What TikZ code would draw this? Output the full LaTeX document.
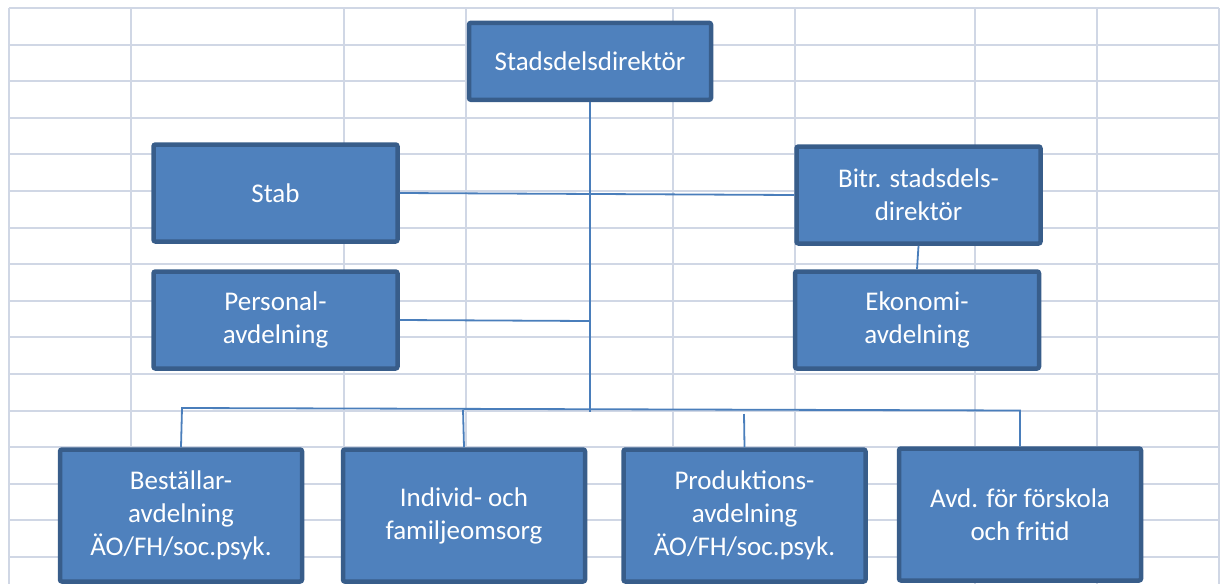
\documentclass[tikz,border=0pt]{standalone}
\usepackage{fontspec}
\setmainfont{Carlito}
\usepackage{tikz}
\usetikzlibrary{positioning}

\definecolor{boxfill}{HTML}{4F81BD}
\definecolor{boxline}{HTML}{385D8A}
\definecolor{connline}{HTML}{4A7EBB}
\definecolor{gridline}{HTML}{D0D7E5}

\begin{document}
\begin{tikzpicture}[x=1pt, y=-1pt,
  gridrule/.style={draw=gridline, line width=2pt},
  orgbox/.style={draw=boxline, fill=boxfill, line width=4.5pt, rounded corners=2pt,
    text=white, align=center, inner sep=0pt,
    font=\fontsize{27}{33}\selectfont},
  midbox/.style={orgbox, minimum width=244pt, minimum height=97pt},
  lowbox/.style={orgbox, minimum width=242pt, minimum height=132pt},
  conn/.style={draw=connline, line width=1.8pt}]
  \useasboundingbox (0,0) rectangle (1222,584);
  % grid behind the chart
  \foreach \gx in {9,131,344,466,673,795,975,1097,1219}
    \draw [gridrule] (\gx,8) -- (\gx,584);
  \foreach \k in {0,...,15}
    \draw [gridrule] (9,{8+36.6*\k}) -- (1219,{8+36.6*\k});
  % boxes
  \node [orgbox, minimum width=242pt, minimum height=77pt] (dir) at (590,61.3) {Stadsdelsdirektör};
  \node [midbox] (stab) at (275.5,193) {Stab};
  \node [midbox] (pers) at (275.5,320) {Personal-\\avdelning};
  \node [midbox] (bitr) at (918.5,195) {Bitr. stadsdels-\\direktör};
  \node [midbox] (eko) at (917,320) {Ekonomi-\\avdelning};
  \node [lowbox] (best) at (181,515.5) {Beställar-\\avdelning\\ÄO/FH/soc.psyk.};
  \node [lowbox] (indi) at (464,515.5) {Individ- och\\familjeomsorg};
  \node [lowbox] (prod) at (744.5,515.5) {Produktions-\\avdelning\\ÄO/FH/soc.psyk.};
  \node [lowbox] (avd) at (1020,514.5) {Avd. för förskola\\och fritid};
  % connectors
  \coordinate (trunk) at (590,412);
  \coordinate (persj) at (590,321);
  \coordinate (busl) at (182,408);
  \coordinate (busr) at (1020,410.5);
  \coordinate (indij) at (463,409.5);
  \coordinate (prodj) at (744,414);
  \draw [conn] (dir.south) -- (trunk);
  \draw [conn] (stab.east) -- (bitr.west);
  \draw [conn] (pers.east) -- (persj);
  \draw [conn] (bitr.south) -- (eko.north);
  \draw [conn] (best.north) -- (busl) -- (busr) -- (avd.north);
  \draw [conn] (indi.north) -- (indij);
  \draw [conn] (prod.north) -- (prodj);
\end{tikzpicture}
\end{document}
